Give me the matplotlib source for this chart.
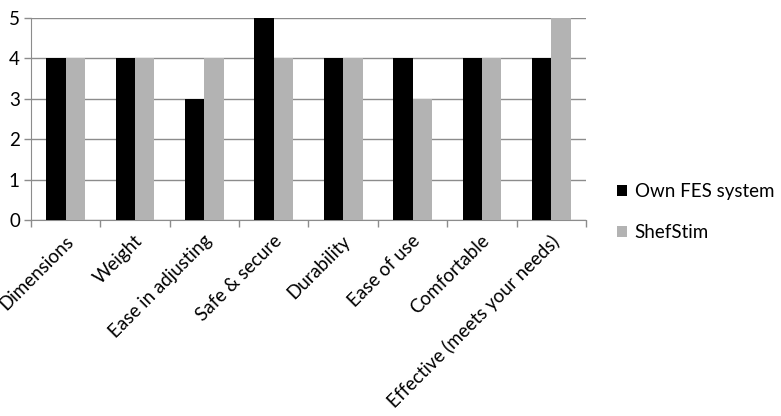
import matplotlib.pyplot as plt
import numpy as np

# Dados
categorias = ['Dimensions', 'Weight', 'Ease in adjusting', 'Safe & secure',
              'Durability', 'Ease of use', 'Comfortable', 'Effective (meets your needs)']
own_fes = [4, 4, 3, 5, 4, 4, 4, 4]
shefstim = [4, 4, 4, 4, 4, 3, 4, 5]

plt.rcParams['font.family'] = ['Lato', 'DejaVu Sans']

fig = plt.figure(figsize=(7.81, 4.16), dpi=100)
ax = fig.add_axes([0.0397, 0.471, 0.7106, 0.486])

x = np.arange(len(categorias))
w = 0.28
ax.bar(x - w / 2, own_fes, w, color='black', label='Own FES system', zorder=3)
ax.bar(x + w / 2, shefstim, w, color='#b3b3b3', label='ShefStim', zorder=3)

ax.set_xlim(-0.5, len(categorias) - 0.5)
ax.set_ylim(0, 5)
ax.set_yticks(range(6))
ax.yaxis.grid(True, color='#8c8c8c', linewidth=1, zorder=0)

# ticks das categorias nas fronteiras
ax.set_xticks(np.arange(len(categorias) + 1) - 0.5)
ax.set_xticklabels([])
ax.tick_params(axis='x', length=5, color='#8c8c8c', width=1)
ax.tick_params(axis='y', length=5, color='#8c8c8c', width=1, labelsize=13.5, pad=3)

for i, c in enumerate(categorias):
    ax.text(i + 0.07, -0.45, c, rotation=45, ha='right', va='center',
            rotation_mode='anchor', fontsize=13.5)

for s in ['top', 'right']:
    ax.spines[s].set_visible(False)
for s in ['left', 'bottom']:
    ax.spines[s].set_color('#8c8c8c')

ax.legend(loc='center left', bbox_to_anchor=(1.025, 0.04), frameon=False,
          fontsize=13.5, handlelength=0.55, handleheight=0.55, handletextpad=0.4,
          labelspacing=1.3)

fig.savefig('out.png', dpi=100)
